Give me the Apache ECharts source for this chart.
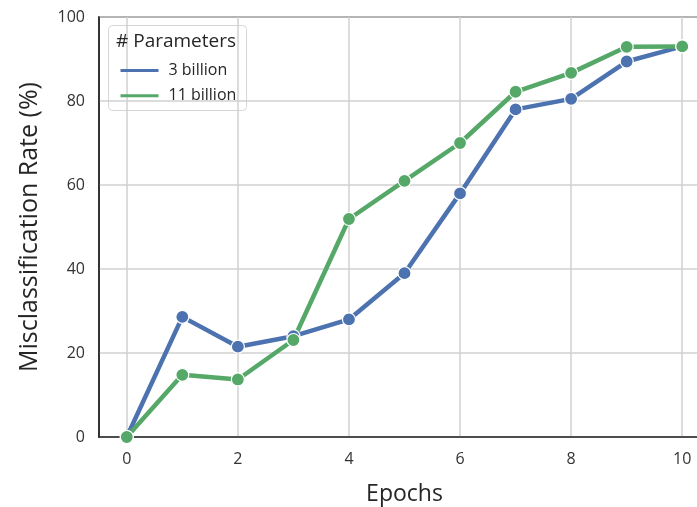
<!DOCTYPE html>
<html>
<head>
<meta charset="utf-8">
<script src="https://cdn.jsdelivr.net/npm/echarts@6/dist/echarts.min.js"></script>
<style>
  html, body { margin: 0; padding: 0; background: #fff; }
  #chart { width: 697px; height: 507px; }
</style>
</head>
<body>
<div id="chart"></div>
<script>
// Misclassification rate per training epoch, by model size
const epochs = [0, 1, 2, 3, 4, 5, 6, 7, 8, 9, 10];
const rate3B  = [0, 28.6, 21.5, 24.0, 28.0, 39.0, 58.0, 78.0, 80.5, 89.4, 93.0];
const rate11B = [0, 14.8, 13.7, 23.1, 51.9, 61.0, 70.0, 82.2, 86.7, 92.9, 93.0];
const seriesNames = ['3 billion', '11 billion'];
const xTicks = [0, 2, 4, 6, 8, 10];
const legendTitle = '# Parameters';

const FONT = 'Open Sans';
const BLUE = '#4c72b0';
const GREEN = '#55a868';

const pairs = (ys) => epochs.map((x, i) => [x, ys[i]]);

const lineSeries = (name, ys, color) => ({
  name,
  type: 'line',
  color,
  data: pairs(ys),
  clip: false,
  symbol: 'circle',
  symbolSize: 13,
  showSymbol: true,
  lineStyle: { color, width: 4.5 },
  itemStyle: { color, borderColor: '#fff', borderWidth: 1.2 },
  emphasis: { disabled: true },
  animation: false
});

const chart = echarts.init(document.getElementById('chart'), null, { renderer: 'canvas' });
chart.setOption({
  backgroundColor: '#fff',
  animation: false,
  grid: {
    // the right edge of the plot runs past the canvas
    left: 99, top: 17, width: 611, height: 420,
    outerBoundsMode: 'none',
    containLabel: false,
    show: true, borderColor: '#2b2b2b', borderWidth: 1.6, backgroundColor: 'transparent'
  },
  xAxis: {
    type: 'value',
    min: -0.5, max: 10.5,
    name: 'Epochs',
    nameLocation: 'middle',
    nameGap: 46,
    nameTextStyle: { fontFamily: FONT, fontSize: 23, color: '#262626' },
    axisLine: { show: true, onZero: false, lineStyle: { color: '#2b2b2b', width: 1.6 } },
    axisTick: { show: false, customValues: xTicks },
    axisLabel: { customValues: xTicks, fontFamily: FONT, fontSize: 16, color: '#333', margin: 14 },
    splitLine: { show: true, lineStyle: { color: '#d0d0d0', width: 1.5 } }
  },
  yAxis: {
    type: 'value',
    min: 0, max: 100, interval: 20,
    name: 'Misclassification Rate (%)',
    nameLocation: 'middle',
    nameGap: 57,
    nameTextStyle: { fontFamily: FONT, fontSize: 25, color: '#262626' },
    axisLine: { show: true, onZero: false, lineStyle: { color: '#2b2b2b', width: 1.6 } },
    axisTick: { show: false },
    axisLabel: { fontFamily: FONT, fontSize: 16, color: '#333', margin: 14 },
    splitLine: { show: true, lineStyle: { color: '#d0d0d0', width: 1.5 } }
  },
  legend: {
    left: 114, top: 57,
    orient: 'vertical',
    itemGap: 8,
    itemWidth: 38, itemHeight: 19,
    itemStyle: { opacity: 0 },
    lineStyle: { width: 3, opacity: 1 },
    textStyle: { fontFamily: FONT, fontSize: 16, color: '#262626', padding: [0, 0, 0, 5] },
    data: seriesNames,
    selectedMode: false
  },
  graphic: [
    {
      type: 'rect',
      left: 108, top: 25, z: 0,
      shape: { width: 138, height: 85, r: 4 },
      style: { fill: 'rgba(255,255,255,0.85)', stroke: '#d6d6d6', lineWidth: 1 }
    },
    {
      type: 'text',
      left: 116, top: 32, z: 10,
      style: { text: legendTitle, fontFamily: FONT, fontSize: 19, fill: '#262626' }
    }
  ],
  series: [
    lineSeries(seriesNames[0], rate3B, BLUE),
    lineSeries(seriesNames[1], rate11B, GREEN)
  ]
});
</script>
</body>
</html>
